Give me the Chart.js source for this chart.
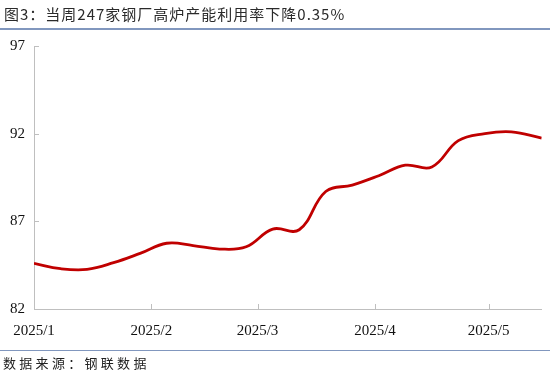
<!DOCTYPE html>
<html>
<head>
<meta charset="utf-8">
<script src="https://cdn.jsdelivr.net/npm/chart.js@4.4.1/dist/chart.umd.min.js"></script>
<style>
  html, body { margin:0; padding:0; background:#fff; }
  #wrap { position:relative; width:550px; height:381px; overflow:hidden; }
  #c { position:absolute; left:0; top:0; }
  #title { position:absolute; left:4px; top:4px; font-family:"Noto Sans CJK SC", sans-serif; font-size:15px; line-height:20px; color:#2a2a2a; white-space:nowrap; letter-spacing:1px; }
  #tline { position:absolute; left:0; top:28px; width:550px; height:2px; background:#8197BE; }
  #fline { position:absolute; left:0; top:350px; width:550px; height:1px; background:#8197BE; }
  #foot { position:absolute; left:3px; top:354px; font-family:"Noto Sans CJK SC", sans-serif; font-size:13px; line-height:18px; color:#222; white-space:nowrap; letter-spacing:3.3px; }
</style>
</head>
<body>
<div id="wrap">
  <canvas id="c" width="550" height="381"></canvas>
  <div id="title">图3：当周247家钢厂高炉产能利用率下降0.35%</div>
  <div id="tline"></div>
  <div id="fline"></div>
  <div id="foot">数据来源：钢联数据</div>
</div>
<script>
// days since 2025-01-01 for each weekly observation
const days = [0, 7, 14, 21, 28, 35, 42, 49, 56, 63, 70, 77, 84, 91, 98, 105, 112, 119, 126, 134];
// 247 steel mills blast furnace capacity utilization (%)
const utilization = [84.60, 84.30, 84.26, 84.64, 85.17, 85.75, 85.62, 85.42, 85.55, 86.56, 86.52, 88.70, 89.07, 89.60, 90.20, 90.10, 91.60, 92.00, 92.10, 91.75];
// month tick positions (days since 2025-01-01) and labels
const monthTickDays = [0, 31, 59, 90, 120];
const monthTickLabels = ['2025/1', '2025/2', '2025/3', '2025/4', '2025/5'];
const yTicks = [82, 87, 92, 97];

const points = days.map((d, i) => ({ x: d, y: utilization[i] }));

const innerTicks = {
  id: 'innerTicks',
  afterDraw(chart) {
    const ctx = chart.ctx;
    const xs = chart.scales.x, ys = chart.scales.y;
    const area = chart.chartArea;
    ctx.save();
    ctx.strokeStyle = '#BFBFBF';
    ctx.lineWidth = 1;
    ctx.beginPath();
    monthTickDays.slice(1).forEach(d => {
      const px = Math.round(xs.getPixelForValue(d)) + 0.5;
      ctx.moveTo(px, area.bottom);
      ctx.lineTo(px, area.bottom - 5);
    });
    yTicks.slice(1).forEach(v => {
      const py = Math.round(ys.getPixelForValue(v)) + 0.5;
      ctx.moveTo(area.left, py);
      ctx.lineTo(area.left + 5, py);
    });
    ctx.stroke();
    ctx.restore();
  }
};

new Chart(document.getElementById('c'), {
  type: 'line',
  data: {
    datasets: [{
      data: points,
      borderColor: '#C00000',
      borderWidth: 2.8,
      pointRadius: 0,
      tension: 0.4,
      cubicInterpolationMode: 'default',
      fill: false
    }]
  },
  options: {
    responsive: false,
    animation: false,
    devicePixelRatio: 1,
    layout: { padding: { top: 46, right: 8.3, left: 0, bottom: 0 } },
    plugins: { legend: { display: false }, tooltip: { enabled: false }, title: { display: false } },
    scales: {
      x: {
        type: 'linear',
        min: 0,
        max: 134,
        afterBuildTicks(scale) { scale.ticks = monthTickDays.map(v => ({ value: v })); },
        afterFit(scale) { scale.height = 72; },
        ticks: {
          autoSkip: false,
          maxRotation: 0,
          padding: 13,
          color: '#111',
          font: { family: '"Liberation Serif", "Times New Roman", serif', size: 15 },
          callback(v) { const i = monthTickDays.indexOf(v); return i >= 0 ? monthTickLabels[i] : ''; }
        },
        grid: { display: true, drawOnChartArea: false, drawTicks: false, color: '#BFBFBF' },
        border: { display: true, color: '#BFBFBF', width: 1 }
      },
      y: {
        min: 82,
        max: 97,
        afterBuildTicks(scale) { scale.ticks = yTicks.map(v => ({ value: v })); },
        afterFit(scale) { scale.width = 34; },
        ticks: {
          padding: 9,
          color: '#111',
          font: { family: '"Liberation Serif", "Times New Roman", serif', size: 15 }
        },
        grid: { display: true, drawOnChartArea: false, drawTicks: false, color: '#BFBFBF' },
        border: { display: true, color: '#BFBFBF', width: 1 }
      }
    }
  },
  plugins: [innerTicks]
});
</script>
</body>
</html>
